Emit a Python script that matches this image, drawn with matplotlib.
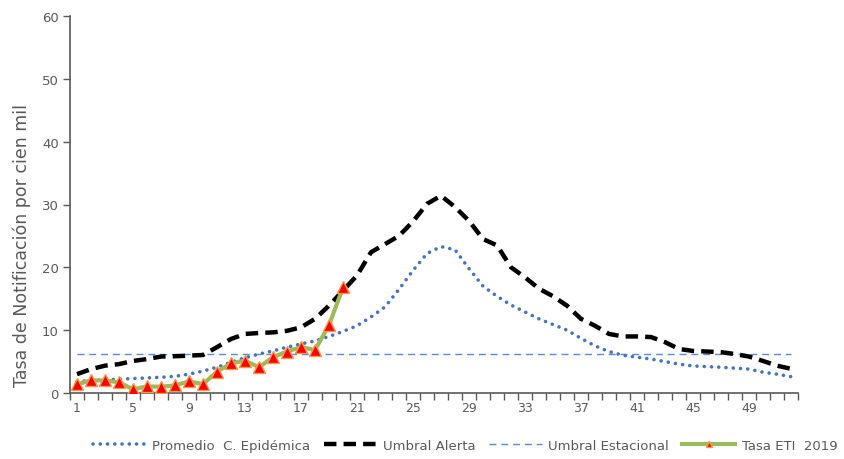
import matplotlib
matplotlib.use("Agg")
import matplotlib.pyplot as plt
import numpy as np

weeks = list(range(1, 53))
promedio = [1.8, 2.0, 2.1, 2.2, 2.3, 2.4, 2.5, 2.65, 3.0, 3.5, 4.1, 4.9, 5.6, 6.2, 6.7, 7.3, 7.8, 8.3, 9.0, 9.8,
            10.7, 12.1, 13.7, 16.5, 19.5, 22.2, 23.3, 22.8, 19.8, 17.0, 15.4, 14.0, 12.9, 11.8, 10.9, 10.0, 8.7, 7.5,
            6.6, 6.0, 5.7, 5.4, 5.0, 4.6, 4.3, 4.2, 4.1, 3.95, 3.8, 3.3, 3.0, 2.6]
alerta = [3.0, 3.8, 4.35, 4.6, 5.1, 5.4, 5.8, 5.85, 5.95, 6.05, 7.3, 8.6, 9.4, 9.55, 9.65, 9.9, 10.45, 11.8, 13.9, 16.3,
          18.7, 22.4, 23.7, 25.0, 27.3, 30.1, 31.4, 29.6, 27.4, 24.5, 23.5, 20.0, 18.4, 16.6, 15.4, 13.9, 11.8, 10.7,
          9.4, 9.0, 9.0, 8.9, 8.1, 7.0, 6.7, 6.6, 6.5, 6.2, 5.8, 5.1, 4.35, 3.85]
estacional = [6.2] * 52
eti_weeks = list(range(1, 21))
eti_2019 = [1.4, 2.0, 2.0, 1.7, 0.6, 1.05, 1.0, 1.2, 1.85, 1.4, 3.4, 4.7, 5.15, 4.1, 5.7, 6.6, 7.3, 6.85, 10.8, 16.8]
xtick_labels = [1, 5, 9, 13, 17, 21, 25, 29, 33, 37, 41, 45, 49]
yticks = [0, 10, 20, 30, 40, 50, 60]

plt.rcParams['font.family'] = ['DejaVu Sans']
grey = '#595959'

fig = plt.figure(figsize=(8.44, 4.6), dpi=100)
ax = fig.add_axes([70/844, 66/460, 728/844, 377/460])

ax.plot(weeks, promedio, color='#4472C4', lw=2.6, linestyle=(0, (0.01, 2.0)),
        dash_capstyle='round', label='Promedio  C. Epidémica', zorder=3)
ax.plot(weeks, alerta, color='black', lw=3.2, linestyle=(0, (2.8, 1.6)),
        label='Umbral Alerta', zorder=3)
ax.plot(weeks, estacional, color='#5B8BD0', lw=1.0, linestyle=(0, (5, 3.5)),
        label='Umbral Estacional', zorder=2)
ax.plot(eti_weeks, eti_2019, color='#9BBB59', lw=3.0, marker='^', markersize=9,
        markerfacecolor='#FF0000', markeredgecolor='#F79646', markeredgewidth=1.0,
        label='Tasa ETI  2019', zorder=4)

ax.set_xlim(0.5, 52.5)
ax.set_ylim(0, 60)
ax.set_yticks(yticks)
ax.set_yticklabels([str(v) for v in yticks])
ax.set_xticks(np.arange(0.5, 53, 1.0))
ax.set_xticklabels([])
ax.set_xticks(xtick_labels, minor=True)
ax.set_xticklabels([str(v) for v in xtick_labels], minor=True)
ax.tick_params(axis='x', which='major', length=5, width=1, color=grey, direction='out')
ax.tick_params(axis='x', which='minor', length=0, labelsize=9, labelcolor=grey, pad=6)
ax.tick_params(axis='y', length=5, width=1, color=grey, labelsize=9.5, labelcolor=grey, pad=3)

for s in ['top', 'right']:
    ax.spines[s].set_visible(False)
for s in ['left', 'bottom']:
    ax.spines[s].set_color(grey)
    ax.spines[s].set_linewidth(1.2)

ax.set_ylabel('Tasa de Notificación por cien mil', fontsize=12.5, color=grey)
ax.yaxis.set_label_coords(-0.054, 0.393)

leg = fig.legend(loc='lower center', bbox_to_anchor=(0.551, -0.01), ncol=4, frameon=False,
                 fontsize=9.5, handlelength=4.0, columnspacing=1.0, handletextpad=0.5)
for t in leg.get_texts():
    t.set_color(grey)
for h in leg.legend_handles:
    try:
        h.set_markersize(5)
    except Exception:
        pass

fig.savefig('out.png', dpi=100)
